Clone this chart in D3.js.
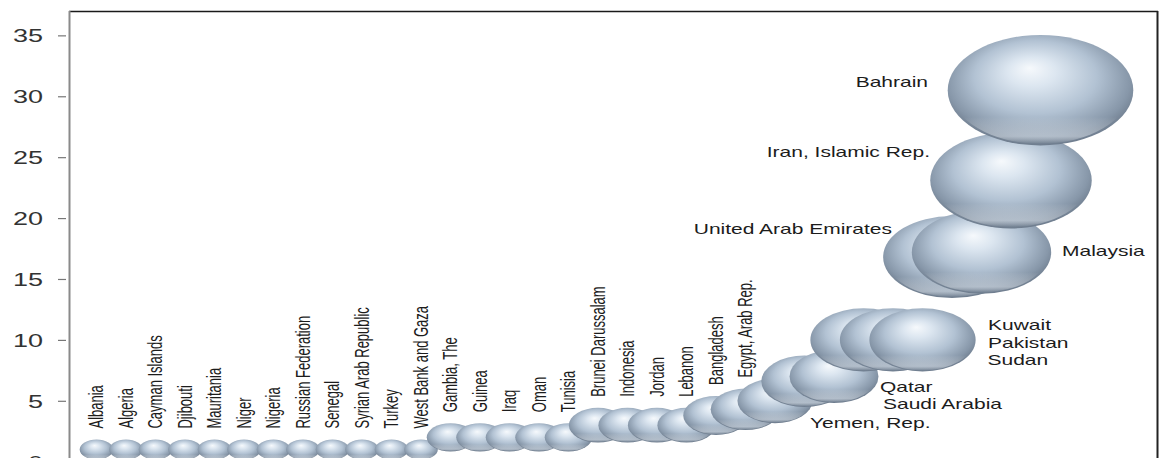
<!DOCTYPE html>
<html>
<head>
<meta charset="utf-8">
<script src="https://cdn.jsdelivr.net/npm/d3@7"></script>
<style>
  html, body { margin: 0; padding: 0; background: #fff; }
  svg { display: block; }
</style>
</head>
<body>
<svg id="chart" width="1161" height="458"></svg>
<script>
// ---------------- DATA ----------------
const countries = [
  "Albania", "Algeria", "Cayman Islands", "Djibouti", "Mauritania", "Niger",
  "Nigeria", "Russian Federation", "Senegal", "Syrian Arab Republic", "Turkey",
  "West Bank and Gaza",
  "Gambia, The", "Guinea", "Iraq", "Oman", "Tunisia",
  "Brunei Darussalam", "Indonesia", "Jordan", "Lebanon",
  "Bangladesh", "Egypt, Arab Rep.", "Yemen, Rep.",
  "Qatar", "Saudi Arabia",
  "Kuwait", "Pakistan", "Sudan",
  "United Arab Emirates", "Malaysia",
  "Iran, Islamic Rep.", "Bahrain"
];
const values = [
  1, 1, 1, 1, 1, 1, 1, 1, 1, 1, 1, 1,
  2, 2, 2, 2, 2,
  3, 3, 3, 3,
  3.8, 4.3, 5,
  6.6, 7,
  10, 10, 10,
  16.8, 17.2,
  23.1, 30.5
];
const yTickValues = [0, 5, 10, 15, 20, 25, 30, 35];

// ---------------- LAYOUT / STYLE ----------------
const svg = d3.select("#chart");
const W = 1161, H = 458;
const plot = { left: 69, right: 1157, top: 11 };
const stretch = 1.5; // horizontal stretch of the original picture

const x = d3.scaleLinear().domain([0, countries.length - 1]).range([96.5, 1040.5]);
const y = d3.scaleLinear().domain([0, 37]).range([461.7, 11]);
const ry = d3.scaleSqrt().domain([0, 1]).range([0, 10]);
const aspect = 1.68;

svg.append("rect").attr("width", W).attr("height", H).attr("fill", "#fff");

// gradient for the spheres
const defs = svg.append("defs");
const g1 = defs.append("radialGradient").attr("id", "sphere")
  .attr("cx", 0.5).attr("cy", 0.45).attr("r", 0.6)
  .attr("fx", 0.44).attr("fy", 0.3);
[[0, "#f6f9fc"], [0.22, "#dce6f0"], [0.55, "#b2c2d3"], [0.82, "#8797a9"], [0.95, "#6a7889"], [1, "#7a8897"]]
  .forEach(([o, c]) => g1.append("stop").attr("offset", o).attr("stop-color", c));
const g2 = defs.append("linearGradient").attr("id", "rim")
  .attr("x1", 0).attr("y1", 0).attr("x2", 0).attr("y2", 1);
[[0, "#ffffff", 0], [0.75, "#ffffff", 0], [0.93, "#e8eef4", 0.45], [1, "#ffffff", 0]]
  .forEach(([o, c, a]) => g2.append("stop").attr("offset", o).attr("stop-color", c).attr("stop-opacity", a));

// frame
svg.append("line").attr("x1", plot.left).attr("x2", plot.right + 1)
  .attr("y1", plot.top + 0.5).attr("y2", plot.top + 0.5)
  .attr("stroke", "#1a1a1a").attr("stroke-width", 1.5);
svg.append("line").attr("x1", plot.right + 0.5).attr("x2", plot.right + 0.5)
  .attr("y1", plot.top).attr("y2", H)
  .attr("stroke", "#222").attr("stroke-width", 2);
svg.append("line").attr("x1", plot.left + 0.5).attr("x2", plot.left + 0.5)
  .attr("y1", plot.top).attr("y2", H)
  .attr("stroke", "#8a8a8a").attr("stroke-width", 2);

// y axis
const yAxis = d3.axisLeft(y).tickValues(yTickValues).tickSize(8).tickPadding(0)
  .tickFormat(d3.format("d"));
const ga = svg.append("g").attr("transform", "translate(66,0)").call(yAxis);
ga.select(".domain").remove();
ga.selectAll(".tick line").attr("stroke", "#777").attr("stroke-width", 1.2);
ga.selectAll(".tick text")
  .attr("x", null)
  .attr("transform", `translate(-23,0) scale(${stretch},1)`)
  .attr("text-anchor", "end")
  .attr("dy", "0.36em")
  .attr("fill", "#333")
  .style("font-family", "'Liberation Sans', Arial, sans-serif")
  .style("font-size", "18px");

// bubbles
const data = countries.map((c, i) => ({ name: c, i, v: values[i] }));
const bubbles = svg.append("g");
data.forEach(d => {
  const cx = x(d.i), cy = y(d.v), r = ry(d.v);
  bubbles.append("ellipse").attr("cx", cx).attr("cy", cy)
    .attr("rx", r * aspect).attr("ry", r).attr("fill", "url(#sphere)");
  bubbles.append("ellipse").attr("cx", cx).attr("cy", cy)
    .attr("rx", r * aspect * 0.96).attr("ry", r * 0.97).attr("fill", "url(#rim)");
});

// labels
const sideLabels = {
  "Yemen, Rep.":          { anchor: "start", dx: 35,   dy: 22 },
  "Qatar":                { anchor: "start", dx: 75.5, dy: 6 },
  "Saudi Arabia":         { anchor: "start", dx: 49,   dy: 28 },
  "Kuwait":               { anchor: "start", dx: 124.5, dy: -15 },
  "Pakistan":             { anchor: "start", dx: 95,   dy: 3 },
  "Sudan":                { anchor: "start", dx: 65,   dy: 20 },
  "United Arab Emirates": { anchor: "end",   dx: -60,  dy: -28 },
  "Malaysia":             { anchor: "start", dx: 80.5, dy: -1 },
  "Iran, Islamic Rep.":   { anchor: "end",   dx: -81,  dy: -28 },
  "Bahrain":              { anchor: "end",   dx: -112.5, dy: -8 }
};
const labels = svg.append("g")
  .style("font-family", "'Liberation Sans', Arial, sans-serif")
  .attr("fill", "#1c1c1c");
data.forEach(d => {
  const cx = x(d.i), cy = y(d.v), r = ry(d.v);
  const s = sideLabels[d.name];
  if (s) {
    labels.append("text")
      .attr("transform", `translate(${cx + s.dx},${cy + s.dy}) scale(${stretch},1)`)
      .attr("text-anchor", s.anchor).attr("dy", "0.35em")
      .style("font-size", "14px").text(d.name);
  } else {
    labels.append("text")
      .attr("transform", `translate(${cx},${cy - r - 11}) scale(${stretch},1) rotate(-90)`)
      .attr("text-anchor", "start").attr("dy", "0.35em")
      .style("font-size", "13px").text(d.name);
  }
});
</script>
</body>
</html>
